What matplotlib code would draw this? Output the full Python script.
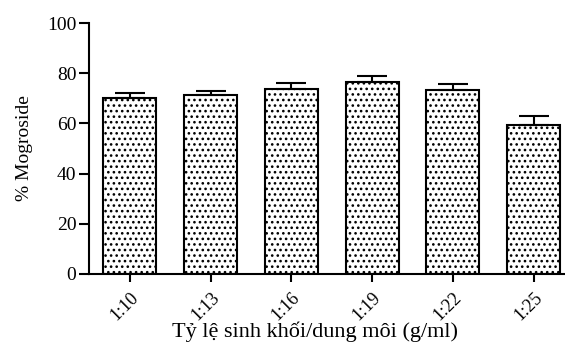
import matplotlib
matplotlib.use("Agg")
import matplotlib.pyplot as plt
import numpy as np

categories = ["1:10", "1:13", "1:16", "1:19", "1:22", "1:25"]
values = [70.2, 71.2, 73.8, 76.5, 73.4, 59.5]
errors = [1.9, 1.8, 2.2, 2.4, 2.3, 3.6]
yticks = [0, 20, 40, 60, 80, 100]

plt.rcParams['font.family'] = ['Liberation Serif', 'DejaVu Serif']
plt.rcParams['hatch.linewidth'] = 1.1

fig = plt.figure(figsize=(5.65, 3.44), dpi=100)
ax = fig.add_axes([0.1575, 0.2035, 0.8425, 0.7295])

x = np.arange(len(categories))
ax.bar(x, values, width=0.656, color='white', edgecolor='black',
       linewidth=1.5, hatch='...', zorder=2)
ax.errorbar(x, values, yerr=[np.zeros(len(errors)), errors], fmt='none',
            ecolor='black', elinewidth=1.5, capsize=10.5, capthick=1.5, zorder=3)

ax.set_xlim(-0.507, 5.39)
ax.set_ylim(0, 100)
ax.set_yticks(yticks)
ax.set_xticks(x)
ax.set_xticklabels(categories, rotation=45, ha='right', va='top',
                   rotation_mode='anchor', fontsize=13)
ax.tick_params(axis='y', labelsize=14, length=7, width=1.5, pad=2)
ax.tick_params(axis='x', length=6, width=1.5, pad=5)
for s in ['top', 'right']:
    ax.spines[s].set_visible(False)
for s in ['left', 'bottom']:
    ax.spines[s].set_linewidth(1.5)

ax.set_ylabel('% Mogroside', fontsize=14)
ax.yaxis.set_label_coords(-0.118, 0.5)
ax.set_xlabel('Tỷ lệ sinh khối/dung môi (g/ml)', fontsize=16)
ax.xaxis.set_label_coords(0.475, -0.19)

fig.savefig('out.png', dpi=100)
